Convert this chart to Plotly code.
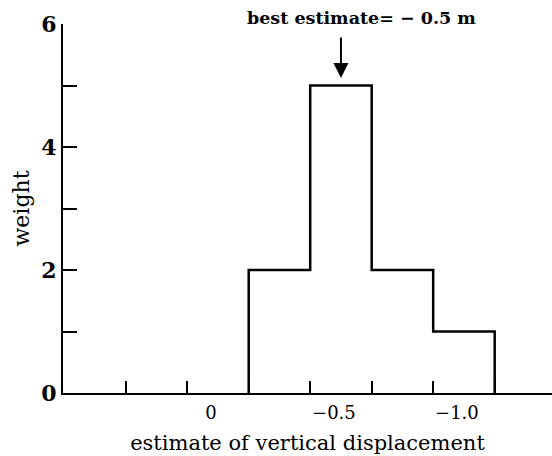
import plotly.graph_objects as go

# Data
bin_centers = [0.0, -0.25, -0.5, -0.75, -1.0]
weights = [0, 2, 5, 2, 1]
bin_width = 0.25
x_tick_labels = ["0", "\u22120.5", "\u22121.0"]
x_tick_values = [0.0, -0.5, -1.0]
y_tick_values = [0, 2, 4, 6]
y_minor_values = [1, 3, 5]
best_estimate = -0.5

# Outline of histogram (only around bins with non-zero weight)
nz = [(c, w) for c, w in zip(bin_centers, weights) if w > 0]
xs, ys = [nz[0][0] + bin_width / 2], [0]
for c, w in nz:
    xs += [c + bin_width / 2, c - bin_width / 2]
    ys += [w, w]
xs.append(nz[-1][0] - bin_width / 2); ys.append(0)

# bin edges used as x ticks
edges = [bin_centers[0] + 1.5 * bin_width] + \
        [c + bin_width / 2 for c in bin_centers] + \
        [bin_centers[-1] - bin_width / 2]

FONT = "DejaVu Serif"

fig = go.Figure()
fig.add_trace(go.Scatter(x=xs, y=ys, mode="lines",
                         line=dict(color="black", width=2.5),
                         hoverinfo="skip", showlegend=False))

fig.update_layout(
    width=552, height=456,
    margin=dict(l=63, r=0, t=24, b=63),
    plot_bgcolor="white", paper_bgcolor="white",
    font=dict(family=FONT, color="black", size=17),
    showlegend=False,
)

fig.update_xaxes(
    range=[0.63, -1.358],
    showline=True, linecolor="black", linewidth=2,
    showgrid=False, zeroline=False,
    tickmode="array", tickvals=x_tick_values, ticktext=x_tick_labels,
    ticks="", tickfont=dict(family=FONT, size=18),
    ticklabelshift=7, ticklabelstandoff=2,
    minor=dict(tickmode="array", tickvals=edges, ticks="inside",
               ticklen=12, tickwidth=1.5, tickcolor="black", showgrid=False),
    title=dict(text="estimate of vertical displacement",
               font=dict(family=FONT, size=21), standoff=14),
)

fig.update_yaxes(
    range=[0, 6],
    showline=True, linecolor="black", linewidth=2,
    showgrid=False, zeroline=False,
    tickmode="array", tickvals=y_tick_values,
    ticks="inside", ticklen=14, tickwidth=1.5, tickcolor="black",
    tickfont=dict(family=FONT, size=22, weight="bold"),
    minor=dict(tickmode="array", tickvals=y_minor_values, ticks="inside",
               ticklen=14, tickwidth=1.5, tickcolor="black", showgrid=False),
    title=dict(text="weight", font=dict(family=FONT, size=22), standoff=6),
)

fig.add_annotation(x=best_estimate, y=5.12, xref="x", yref="y",
                   text="", showarrow=True, ax=0, ay=-42,
                   arrowhead=2, arrowsize=1.5, arrowwidth=2, arrowcolor="black")
fig.add_annotation(x=0.611, y=1.0, xref="paper", yref="paper",
                   xanchor="center", yanchor="middle", yshift=6,
                   text="<b>best estimate= \u2212 0.5 m</b>", showarrow=False,
                   font=dict(family=FONT, size=17.5))

fig.write_html("out.html")
